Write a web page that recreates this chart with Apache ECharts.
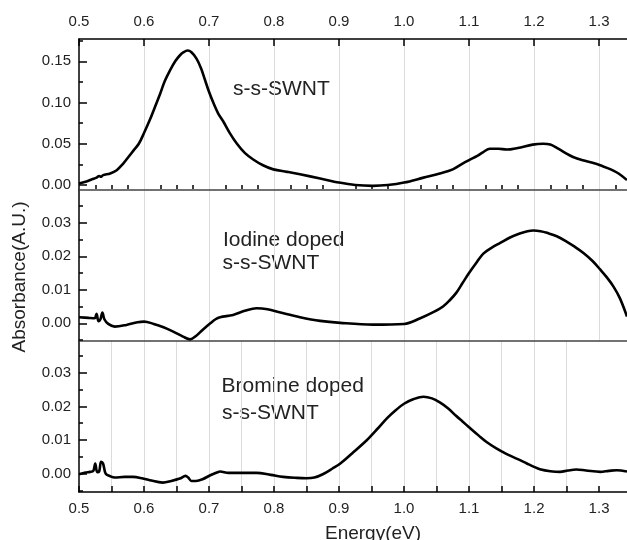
<!DOCTYPE html>
<html>
<head>
<meta charset="utf-8">
<script src="https://cdn.jsdelivr.net/npm/echarts@6/dist/echarts.min.js"></script>
<style>
  html, body { margin: 0; padding: 0; background: #fff; }
  #chart { width: 627px; height: 540px; }
</style>
</head>
<body>
<div id="chart"></div>
<script>
// Absorption spectra of s-s-SWNT films, pristine and halogen doped.
const ssEnergy = [0.500,0.510,0.520,0.527,0.531,0.534,0.537,0.548,0.558,0.568,0.576,0.584,0.592,0.600,0.609,0.617,0.625,0.632,0.640,0.648,0.655,0.661,0.667,0.673,0.681,0.688,0.694,0.700,0.707,0.714,0.722,0.732,0.743,0.755,0.768,0.783,0.799,0.820,0.840,0.871,0.900,0.925,0.952,0.975,1.000,1.030,1.055,1.075,1.090,1.102,1.112,1.122,1.132,1.145,1.158,1.175,1.198,1.214,1.225,1.235,1.248,1.260,1.275,1.290,1.305,1.318,1.330,1.343];
const ssAbs = [0.002,0.004,0.007,0.009,0.011,0.010,0.012,0.014,0.018,0.026,0.034,0.042,0.050,0.063,0.079,0.095,0.111,0.126,0.139,0.150,0.157,0.161,0.163,0.161,0.153,0.141,0.127,0.113,0.099,0.087,0.077,0.063,0.050,0.039,0.031,0.024,0.019,0.016,0.013,0.008,0.003,0.000,-0.001,0.000,0.003,0.009,0.014,0.019,0.026,0.031,0.035,0.040,0.044,0.044,0.043,0.045,0.049,0.050,0.049,0.045,0.039,0.034,0.030,0.027,0.023,0.019,0.014,0.006];

const iodineEnergy = [0.500,0.515,0.524,0.527,0.530,0.533,0.536,0.539,0.545,0.555,0.573,0.590,0.600,0.615,0.630,0.645,0.660,0.671,0.680,0.690,0.702,0.710,0.717,0.737,0.755,0.773,0.790,0.810,0.840,0.871,0.902,0.952,1.000,1.025,1.045,1.060,1.070,1.080,1.090,1.100,1.111,1.122,1.135,1.148,1.163,1.178,1.190,1.199,1.210,1.220,1.235,1.250,1.263,1.276,1.290,1.302,1.312,1.322,1.332,1.343];
const iodineAbs = [0.0018,0.0016,0.0015,0.0028,0.0006,0.0012,0.0032,0.0012,-0.0002,-0.0010,-0.0005,0.0003,0.0005,-0.0002,-0.0012,-0.0025,-0.0040,-0.0048,-0.0038,-0.0020,0.0000,0.0012,0.0018,0.0025,0.0037,0.0045,0.0042,0.0032,0.0018,0.0007,0.0001,-0.0004,-0.0002,0.0015,0.0033,0.0050,0.0068,0.0090,0.0120,0.0150,0.0180,0.0208,0.0226,0.0240,0.0256,0.0268,0.0275,0.0277,0.0275,0.0270,0.0260,0.0244,0.0228,0.0210,0.0186,0.0160,0.0137,0.0110,0.0075,0.0020];

const bromineEnergy = [0.500,0.510,0.517,0.522,0.525,0.528,0.531,0.534,0.537,0.541,0.548,0.555,0.570,0.583,0.597,0.609,0.629,0.642,0.655,0.664,0.668,0.673,0.680,0.690,0.702,0.712,0.717,0.730,0.750,0.773,0.795,0.814,0.835,0.850,0.862,0.875,0.890,0.902,0.920,0.943,0.960,0.974,0.988,1.000,1.015,1.030,1.043,1.055,1.068,1.080,1.090,1.100,1.115,1.127,1.142,1.158,1.175,1.189,1.200,1.209,1.225,1.240,1.252,1.265,1.280,1.302,1.315,1.327,1.343];
const bromineAbs = [-0.0002,0.0003,0.0005,0.0008,0.0030,0.0004,0.0006,0.0035,0.0030,0.0000,-0.0008,-0.0012,-0.0010,-0.0010,-0.0014,-0.0020,-0.0027,-0.0022,-0.0015,-0.0007,-0.0012,-0.0022,-0.0022,-0.0017,-0.0005,0.0003,0.0006,0.0002,0.0002,0.0002,-0.0004,-0.0010,-0.0013,-0.0014,-0.0012,-0.0002,0.0015,0.0030,0.0060,0.0100,0.0135,0.0165,0.0190,0.0208,0.0222,0.0229,0.0224,0.0212,0.0194,0.0172,0.0155,0.0138,0.0113,0.0094,0.0075,0.0058,0.0043,0.0030,0.0020,0.0013,0.0007,0.0005,0.0009,0.0012,0.0009,0.0005,0.0008,0.0010,0.0006];

// Tick positions
const energyTicks = [0.5,0.6,0.7,0.8,0.9,1.0,1.1,1.2,1.3];
const energyMinorTop = [0.525,0.55,0.575,0.625,0.65,0.675,0.725,0.75,0.775,0.825,0.85,0.875,0.925,0.95,0.975,1.025,1.05,1.075,1.125,1.15,1.175,1.225,1.25,1.275,1.325];
const energyTicksBottom = [0.5,0.55,0.6,0.65,0.7,0.75,0.8,0.85,0.9,0.95,1.0,1.05,1.1,1.15,1.2,1.25,1.3];
const absTicksTop = [0, 0.05, 0.10, 0.15];
const absMinorTop = [0.025, 0.075, 0.125, 0.175];
const absTicksDoped = [0, 0.01, 0.02, 0.03];
const absMinorDoped = [-0.005, 0.005, 0.015, 0.025, 0.035];

const E_MIN = 0.5, E_MAX = 1.343;
const FONT = 'Liberation Sans, Arial, sans-serif';
const TXT = '#222';

const pair = (xs, ys) => xs.map((x, i) => [x, ys[i]]);

const grids = [
  { left: 79, width: 548, top: 39, height: 151 },
  { left: 79, width: 548, top: 190, height: 151 },
  { left: 79, width: 548, top: 341, height: 151 }
];

const gridLine = { show: true, interval: 0.1, showMinLine: false, showMaxLine: false,
  lineStyle: { color: '#dcdcdc', width: 1 } };

function sepAxis(gi, color) {
  return {
    type: 'value', gridIndex: gi, position: 'bottom', min: E_MIN, max: E_MAX, interval: 0.1,
    axisLine: { show: true, onZero: false, lineStyle: { color: color, width: 1.5 } },
    axisTick: { show: false }, axisLabel: { show: false }, splitLine: gridLine
  };
}

const xAxes = [
  { // top labelled axis
    type: 'value', gridIndex: 0, position: 'top', min: E_MIN, max: E_MAX,
    axisLine: { show: true, onZero: false, lineStyle: { color: '#000', width: 1.5 } },
    axisTick: { show: true, inside: true, length: 7, customValues: energyTicks, lineStyle: { color: '#000', width: 1.5 } },
    axisLabel: { show: true, customValues: energyTicks, margin: 10, fontSize: 15, fontFamily: FONT, color: TXT,
      formatter: v => v.toFixed(1) },
    splitLine: { show: false }
  },
  { // top minor ticks
    type: 'value', gridIndex: 0, position: 'top', min: E_MIN, max: E_MAX,
    axisLine: { show: false },
    axisTick: { show: true, inside: true, length: 4, customValues: energyMinorTop, lineStyle: { color: '#000', width: 1.5 } },
    axisLabel: { show: false }, splitLine: { show: false }
  },
  sepAxis(0, '#444'),
  sepAxis(1, '#444'),
  { // bottom labelled axis
    type: 'value', gridIndex: 2, position: 'bottom', min: E_MIN, max: E_MAX, interval: 0.1,
    axisLine: { show: true, onZero: false, lineStyle: { color: '#000', width: 1.5 } },
    axisTick: { show: true, inside: true, length: 6, customValues: energyTicksBottom, lineStyle: { color: '#000', width: 1.5 } },
    axisLabel: { show: true, customValues: energyTicks, margin: 9, fontSize: 15, fontFamily: FONT, color: TXT,
      formatter: v => v.toFixed(1) },
    splitLine: gridLine
  }
];

function yMajor(gi, min, max, ticks) {
  return {
    type: 'value', gridIndex: gi, position: 'left', min: min, max: max,
    axisLine: { show: true, onZero: false, lineStyle: { color: '#000', width: 1.5 } },
    axisTick: { show: true, inside: true, length: 8, customValues: ticks, lineStyle: { color: '#000', width: 1.5 } },
    axisLabel: { show: true, customValues: ticks, margin: 8, fontSize: 15, fontFamily: FONT, color: TXT,
      formatter: v => v.toFixed(2) },
    splitLine: { show: false }
  };
}
function yMinor(gi, min, max, ticks) {
  return {
    type: 'value', gridIndex: gi, position: 'left', min: min, max: max,
    axisLine: { show: false },
    axisTick: { show: true, inside: true, length: 4, customValues: ticks, lineStyle: { color: '#000', width: 1.5 } },
    axisLabel: { show: false }, splitLine: { show: false }
  };
}

const yAxes = [
  yMajor(0, -0.006, 0.177, absTicksTop), yMinor(0, -0.006, 0.177, absMinorTop),
  yMajor(1, -0.0053, 0.0398, absTicksDoped), yMinor(1, -0.0053, 0.0398, absMinorDoped),
  yMajor(2, -0.0055, 0.0395, absTicksDoped), yMinor(2, -0.0055, 0.0395, absMinorDoped)
];

function spectrum(name, xi, yi, data) {
  return {
    name: name, type: 'line', xAxisIndex: xi, yAxisIndex: yi, data: data,
    showSymbol: false, smooth: 0.35, clip: true,
    lineStyle: { color: '#000', width: 2.6 }, silent: true, animation: false
  };
}

const textStyle = (t, x, y, size) => ({
  type: 'text', x: x, y: y,
  style: { text: t, fontSize: size, fontFamily: FONT, fill: TXT, verticalAlign: 'middle', align: 'left' }
});

const chart = echarts.init(document.getElementById('chart'), null, { renderer: 'canvas' });
chart.setOption({
  animation: false,
  backgroundColor: '#fff',
  grid: grids,
  xAxis: xAxes,
  yAxis: yAxes,
  series: [
    spectrum('s-s-SWNT', 2, 0, pair(ssEnergy, ssAbs)),
    spectrum('Iodine doped s-s-SWNT', 3, 2, pair(iodineEnergy, iodineAbs)),
    spectrum('Bromine doped s-s-SWNT', 4, 4, pair(bromineEnergy, bromineAbs))
  ],
  graphic: [
    textStyle('s-s-SWNT', 233, 89, 21),
    textStyle('Iodine doped', 223, 240, 21),
    textStyle('s-s-SWNT', 222.5, 263, 21),
    textStyle('Bromine doped', 221.5, 386, 21),
    textStyle('s-s-SWNT', 222, 413, 21),
    { type: 'text', x: 373, y: 534,
      style: { text: 'Energy(eV)', fontSize: 19, fontFamily: FONT, fill: TXT, align: 'center', verticalAlign: 'middle' } },
    { type: 'text', x: 20, y: 277, rotation: Math.PI / 2,
      style: { text: 'Absorbance(A.U.)', fontSize: 19, fontFamily: FONT, fill: TXT, align: 'center', verticalAlign: 'middle' } }
  ]
});
</script>
</body>
</html>
